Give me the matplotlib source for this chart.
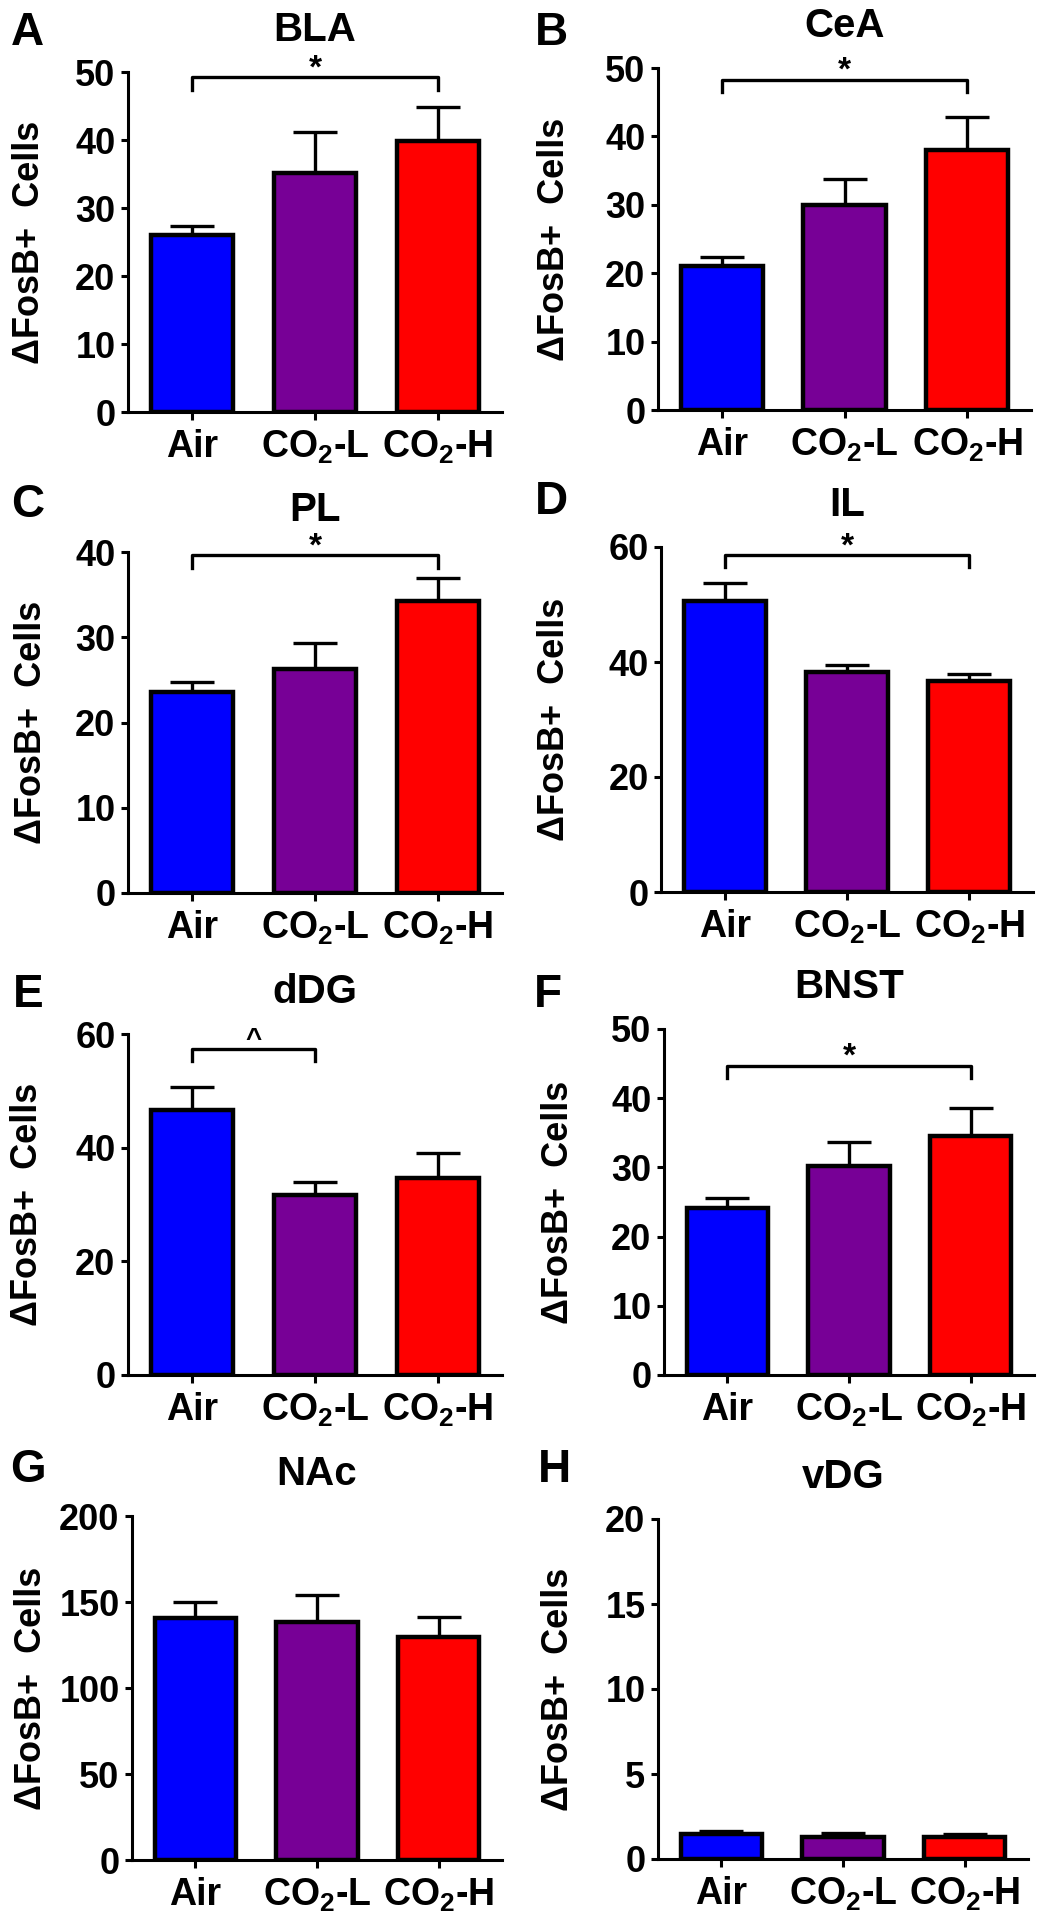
import numpy as np
import matplotlib
matplotlib.use("Agg")
import matplotlib.pyplot as plt

plt.rcParams['font.family'] = ['Liberation Sans', 'DejaVu Sans']
plt.rcParams['font.weight'] = 'bold'
plt.rcParams['mathtext.fontset'] = 'custom'
plt.rcParams['mathtext.rm'] = 'Liberation Sans:bold'
plt.rcParams['mathtext.default'] = 'rm'

groups = ["Air", "CO$_2$-L", "CO$_2$-H"]
colors = ["#0000FF", "#770096", "#FF0000"]

letters = ["A", "B", "C", "D", "E", "F", "G", "H"]
regions = ["BLA", "CeA", "PL", "IL", "dDG", "BNST", "NAc", "vDG"]

means = [
    [26.0, 35.2, 39.9],
    [21.0, 29.9, 38.0],
    [23.6, 26.3, 34.3],
    [50.6, 38.3, 36.7],
    [46.7, 31.7, 34.6],
    [24.1, 30.2, 34.6],
    [140.8, 138.4, 129.7],
    [1.47, 1.29, 1.27],
]
sems = [
    [1.4, 6.0, 5.0],
    [1.4, 3.8, 4.8],
    [1.1, 3.0, 2.7],
    [3.2, 1.1, 1.3],
    [4.0, 2.3, 4.4],
    [1.5, 3.4, 4.0],
    [9.3, 15.5, 11.6],
    [0.19, 0.24, 0.22],
]
ymax = [50, 50, 40, 60, 60, 50, 200, 20]
ystep = [10, 10, 10, 20, 20, 10, 50, 5]

# significance brackets: (panel index, group a, group b, height, symbol)
brackets = [
    (0, 0, 2, 49.2, "*"),
    (1, 0, 2, 48.3, "*"),
    (2, 0, 2, 39.6, "*"),
    (3, 0, 2, 58.6, "*"),
    (4, 0, 1, 57.4, "^"),
    (5, 0, 2, 44.7, "*"),
]

W, H = 1042, 1920
fig = plt.figure(figsize=(W / 100, H / 100), dpi=100)

# axes boxes in pixels: left, right, top, bottom
boxes = [
    (128, 502, 72, 412), (658, 1031, 68, 410),
    (128, 502, 552, 893), (661, 1033, 547, 892),
    (128, 502, 1034, 1375), (664, 1034, 1029, 1375),
    (132, 502, 1516, 1860), (658, 1028, 1519, 1859),
]
letter_pos = [(27, 33), (551, 33), (28, 505), (551, 502),
              (28, 995), (548, 995), (28, 1470), (554, 1470)]
ylabel_x = [30, 554, 32, 554, 28, 559, 32, 559]

axes = []
for i, (l, r, t, b) in enumerate(boxes):
    ax = fig.add_axes([l / W, 1 - b / H, (r - l) / W, (b - t) / H])
    x = np.arange(len(groups))
    ax.bar(x, means[i], width=0.67, color=colors, edgecolor='black', linewidth=3.2, zorder=2)
    ax.errorbar(x, means[i], yerr=[np.zeros(3), sems[i]], fmt='none', ecolor='black',
                elinewidth=2.4, capsize=16, capthick=2.4, zorder=1)
    ax.set_xlim(-0.52, 2.52)
    ax.set_ylim(0, ymax[i])
    ax.set_yticks(np.arange(0, ymax[i] + 0.1, ystep[i]))
    ax.set_xticks(x)
    ax.set_xticklabels(groups)
    for s in ['top', 'right']:
        ax.spines[s].set_visible(False)
    for s in ['left', 'bottom']:
        ax.spines[s].set_linewidth(2.2)
    ax.tick_params(axis='y', length=5, width=2.2, labelsize=26, pad=4)
    ax.tick_params(axis='x', length=6, width=2.2, labelsize=27, pad=6)
    ax.set_title(regions[i], fontsize=29, fontweight='bold', pad=22)
    lx, ly = letter_pos[i]
    fig.text(lx / W, 1 - ly / H, letters[i], fontsize=33, fontweight='bold', ha='center', va='center')
    fig.text(ylabel_x[i] / W, 1 - (t + b) / 2 / H, "\u0394FosB+  Cells", rotation=90,
             fontsize=26, fontweight='bold', ha='center', va='center')
    axes.append(ax)

for idx, a, b2, yb, sym in brackets:
    ax = axes[idx]
    d = 0.036 * ymax[idx]
    ax.plot([a, a, b2, b2], [yb - d, yb, yb, yb - d], color='black', lw=2.4, clip_on=False)
    ax.annotate(sym, xy=((a + b2) / 2, yb), xytext=(0, 6), textcoords='offset points',
                ha='center', va='center', fontsize=24 if sym == "*" else 20,
                fontweight='bold', annotation_clip=False)

fig.savefig("out.png", dpi=100)
